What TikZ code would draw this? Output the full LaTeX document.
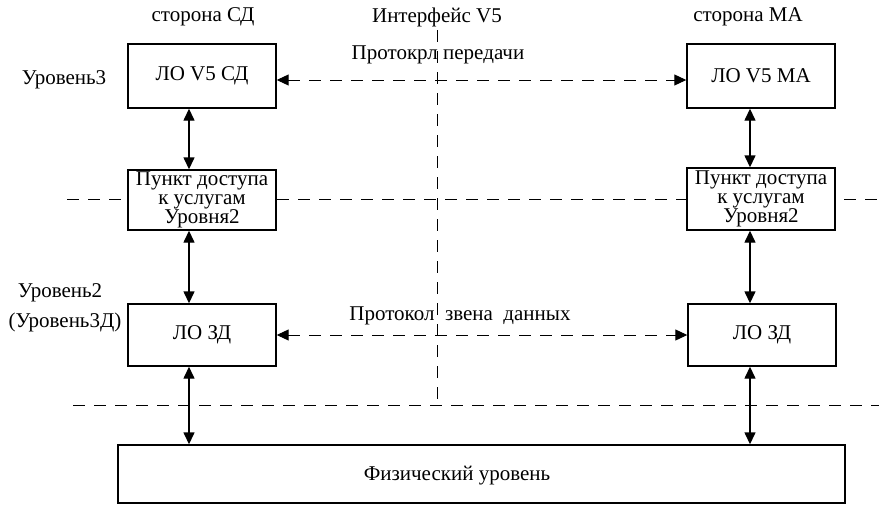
\documentclass[tikz,border=0pt]{standalone}
\usepackage{fontspec}
\setmainfont{Liberation Serif}
\usetikzlibrary{arrows.meta}
\begin{document}
\begin{tikzpicture}[x=1pt,y=-1pt,
  txt/.style={font=\fontsize{21}{19}\selectfont,inner sep=0pt},
  box/.style={draw,line width=1.4pt,fill=white,minimum width=148pt,inner sep=0pt,
    font=\fontsize{21}{19}\selectfont,align=center},
  varr/.style={line width=1.4pt,{Triangle[length=12pt,width=11pt]}-{Triangle[length=12pt,width=11pt]}},
  darr/.style={line width=1pt,dash pattern=on 12pt off 9pt,{Triangle[length=12pt,width=11pt]}-{Triangle[length=12pt,width=11pt]}},
  dline/.style={line width=1pt,dash pattern=on 12pt off 9pt}
]
\useasboundingbox (0,0) rectangle (879,506);
% separating dashed lines
\coordinate (ul) at (67,199);  \coordinate (ur) at (879,199);
\coordinate (ll) at (73,405);  \coordinate (lr) at (879,405);
\coordinate (vt) at (437,30);  \coordinate (vb) at (437,407);
\draw[dline] (ul) -- (ur);
\draw[dline] (ll) -- (lr);
\draw[dline] (vt) -- (vb);
% headings
\node[txt] (hsd) at (203,17) {сторона СД};
\node[txt] (hif) at (437,17) {Интерфейс V5};
\node[txt] (hma) at (748,17) {сторона МА};
\node[txt] (lv3) at (64,80) {Уровень3};
\node[txt] (lv2) at (60,293) {Уровень2};
\node[txt] (lv2b) at (65,322) {(Уровень3Д)};
% boxes
\node[box,minimum height=64pt] (b1) at (202,76) {ЛО V5 СД};
\node[box,minimum height=60pt] (b2) at (202,200) {Пункт доступа\\к услугам\\Уровня2};
\node[box,minimum height=62pt] (b3) at (202,335) {ЛО ЗД};
\node[box,minimum height=64pt] (r1) at (761,76) {ЛО V5 МА};
\node[box,minimum height=62pt] (r2) at (761,199) {Пункт доступа\\к услугам\\Уровня2};
\node[box,minimum height=62pt] (r3) at (762,335) {ЛО ЗД};
\node[draw,line width=1.4pt,fill=white,minimum width=727pt,minimum height=58pt] (ph) at (481.5,474) {};
\node[txt] (phl) at (457,476) {Физический уровень};
% protocol labels
\node[txt] (p1) at (438,55) {Протокрл передачи};
\node[txt] (p2) at (460,316) {Протокол\ \ звена\ \ данных};
% horizontal dashed arrows
\draw[darr] ([yshift=-4pt]b1.east) -- ([yshift=-4pt]r1.west);
\draw[darr] (b3.east) -- (r3.west);
% vertical arrows
\coordinate (lx) at (189,0);
\coordinate (rx) at (750,0);
\draw[varr] (lx |- b1.south) -- (lx |- b2.north);
\draw[varr] (lx |- b2.south) -- (lx |- b3.north);
\draw[varr] (lx |- b3.south) -- (lx |- ph.north);
\draw[varr] (rx |- r1.south) -- (rx |- r2.north);
\draw[varr] (rx |- r2.south) -- (rx |- r3.north);
\draw[varr] (rx |- r3.south) -- (rx |- ph.north);
\end{tikzpicture}
\end{document}
